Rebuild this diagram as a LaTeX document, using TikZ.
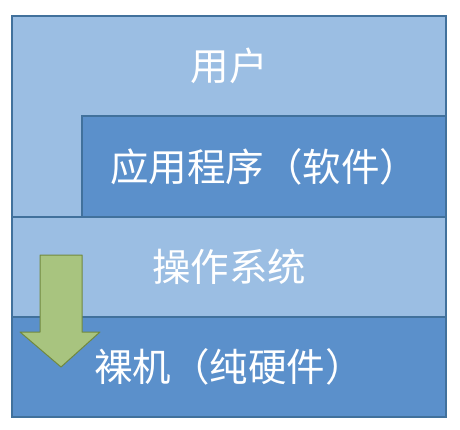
\documentclass[tikz,border=0pt]{standalone}
\usepackage{fontspec}
\newfontfamily\cjk{Noto Sans CJK SC}
\usepackage{tikz}
\usetikzlibrary{positioning}

\definecolor{layerlight}{HTML}{9BBEE3}
\definecolor{layerdark}{HTML}{5B90CB}
\definecolor{layerline}{HTML}{41719C}
\definecolor{arrowfill}{HTML}{A8C47F}
\definecolor{arrowline}{HTML}{71893F}

\begin{document}
\begin{tikzpicture}[
    x=1pt, y=-1pt,
    layer/.style={
        draw=layerline, line width=1.2pt,
        minimum width=434pt, minimum height=100pt,
        inner sep=0pt, outer sep=0pt
    },
    label/.style={font=\cjk\fontsize{38.5}{42}\selectfont, text=white}
]
\useasboundingbox (0,0) rectangle (460,430);

% user layer wraps round the application layer
\draw[draw=layerline, line width=1.2pt, fill=layerlight]
    (12,16) -- (446,16) -- (446,116) -- (82,116) -- (82,217) -- (12,217) -- cycle;
\node[label] (user) at (229,66) {用户};

\node[layer, fill=layerdark, minimum width=364pt, minimum height=101pt] (app) at (264,166.5) {};
\node[label] at (app) {应用程序（软件）};

\node[layer, fill=layerlight] (os)  at (229,267) {};
\node[label] at (os) {操作系统};

\node[layer, fill=layerdark]  (hw)  at (229,367) {};
\node[label] at (hw) {裸机（纯硬件）};

% downward arrow
\draw[draw=arrowline, line width=1pt, fill=arrowfill, line join=round]
    (40,255) -- (82,255) -- (82,332) -- (100,332) -- (61,367) -- (20,332) -- (40,332) -- cycle;

\end{tikzpicture}
\end{document}
